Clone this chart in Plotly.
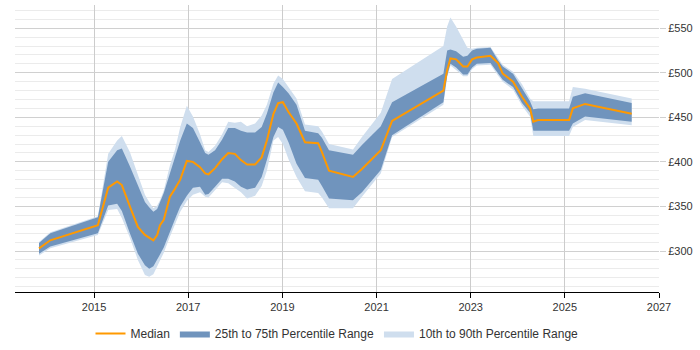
import plotly.graph_objects as go

years = [2013.83, 2014.07, 2015.08, 2015.30, 2015.49, 2015.59, 2015.76, 2015.93, 2016.08, 2016.17,
         2016.26, 2016.34, 2016.40, 2016.48, 2016.61, 2016.72, 2016.83, 2016.97, 2017.10, 2017.25,
         2017.36, 2017.43, 2017.57, 2017.72, 2017.85, 2017.99, 2018.12, 2018.25, 2018.42, 2018.56,
         2018.67, 2018.81, 2018.91, 2019.01, 2019.13, 2019.30, 2019.48, 2019.76, 2019.84, 2019.99,
         2020.50, 2020.69, 2021.09, 2021.33, 2022.42, 2022.50, 2022.57, 2022.69, 2022.84, 2022.93,
         2023.03, 2023.13, 2023.42, 2023.58, 2023.68, 2023.90, 2024.09, 2024.26, 2024.33, 2024.43,
         2025.09, 2025.17, 2025.43, 2026.42]

median = [303, 312, 329, 371, 378, 374, 350, 327, 318, 315,
          312, 318, 329, 335, 361, 370, 380, 401, 400, 394,
          387, 386, 393, 403, 410, 409, 402, 397, 397, 405,
          424, 454, 466, 467, 456, 443, 422, 421, 411, 390,
          383, 392, 413, 446, 480, 503, 516, 515, 507, 507,
          515, 517, 519, 511, 499, 490, 473, 460, 445, 447,
          447, 460, 465, 454]

p25 = [297, 305, 320, 351, 353, 345, 320, 297, 284, 280,
       283, 290, 296, 304, 322, 336, 350, 362, 371, 372,
       363, 364, 372, 381, 381, 378, 372, 369, 371, 383,
       402, 428, 439, 436, 422, 398, 382, 380, 373, 359,
       357, 366, 391, 430, 467, 497, 510, 506, 498, 498,
       506, 510, 511, 499, 492, 484, 466, 455, 435, 435,
       435, 443, 451, 445]

p75 = [309, 320, 338, 400, 413, 415, 395, 373, 355, 349,
       344, 347, 354, 365, 387, 405, 424, 443, 438, 422,
       410, 408, 413, 425, 438, 438, 435, 433, 433, 439,
       454, 478, 489, 484, 477, 464, 435, 432, 427, 413,
       408, 419, 440, 467, 499, 525, 526, 524, 518, 519,
       525, 527, 528, 514, 507, 499, 483, 468, 459, 460,
       460, 473, 477, 466]

p10 = [295, 303, 318, 346, 347, 337, 315, 290, 273, 271,
       274, 283, 290, 298, 316, 330, 344, 356, 363, 366,
       361, 360, 368, 377, 376, 371, 366, 359, 362, 373,
       390, 424, 428, 420, 403, 383, 367, 365, 360, 348,
       348, 361, 387, 428, 464, 495, 508, 503, 496, 496,
       504, 508, 509, 497, 490, 481, 463, 451, 429, 429,
       429, 439, 447, 441]

p90 = [310, 321, 339, 409, 424, 429, 411, 386, 363, 355,
       348, 351, 357, 368, 396, 414, 439, 463, 451, 431,
       413, 411, 418, 431, 445, 444, 445, 440, 443, 452,
       464, 488, 497, 493, 484, 471, 442, 440, 434, 420,
       414, 428, 455, 493, 530, 552, 562, 552, 537, 528,
       527, 528, 529, 516, 509, 501, 487, 471, 468, 468,
       468, 484, 482, 471]

x_ticks = [2015, 2017, 2019, 2021, 2023, 2025, 2027]
y_ticks = [300, 350, 400, 450, 500, 550]
y_labels = ["£" + str(v) for v in y_ticks]

LIGHT = "#cfdeee"
DARK = "#7094bd"
ORANGE = "#ff9900"

fig = go.Figure()
fig.add_trace(go.Scatter(x=years, y=p10, mode="lines", line=dict(width=0, color=LIGHT),
                         showlegend=False, hoverinfo="skip"))
fig.add_trace(go.Scatter(x=years, y=p90, mode="lines", line=dict(width=0, color=LIGHT),
                         fill="tonexty", fillcolor=LIGHT,
                         name="10th to 90th Percentile Range", legendrank=3))
fig.add_trace(go.Scatter(x=years, y=p25, mode="lines", line=dict(width=0, color=DARK),
                         showlegend=False, hoverinfo="skip"))
fig.add_trace(go.Scatter(x=years, y=p75, mode="lines", line=dict(width=0, color=DARK),
                         fill="tonexty", fillcolor=DARK,
                         name="25th to 75th Percentile Range", legendrank=2))
fig.add_trace(go.Scatter(x=years, y=median, mode="lines", line=dict(width=2, color=ORANGE),
                         name="Median", legendrank=1))

fig.update_layout(
    width=700, height=350,
    margin=dict(l=15, r=41, t=5, b=58, autoexpand=False),
    paper_bgcolor="white", plot_bgcolor="white",
    font=dict(family="Liberation Sans, Arial, sans-serif", size=11, color="#333333"),
    legend=dict(orientation="h", x=0.5, xanchor="center", y=-0.145, yanchor="middle",
                font=dict(size=12, color="#333333"), traceorder="normal",
                itemwidth=30),
    xaxis=dict(range=[2013.32, 2027], tickvals=x_ticks, ticktext=[str(t) for t in x_ticks],
               showgrid=True, gridcolor="#cccccc", gridwidth=1,
               showline=True, linecolor="#000000", linewidth=1,
               ticks="outside", ticklen=5, tickcolor="#000000",
               zeroline=False, tickfont=dict(size=11, color="#333333")),
    yaxis=dict(range=[254, 576], side="right", tickvals=y_ticks, ticktext=y_labels,
               showgrid=True, gridcolor="#d0d0d0", gridwidth=1,
               minor=dict(dtick=10, tick0=300, showgrid=True, gridcolor="#ebebeb", gridwidth=1),
               showline=False, zeroline=False,
               ticks="outside", ticklen=6, tickcolor="#d0d0d0",
               tickfont=dict(size=11, color="#333333")),
)

fig.write_html("out.html")
